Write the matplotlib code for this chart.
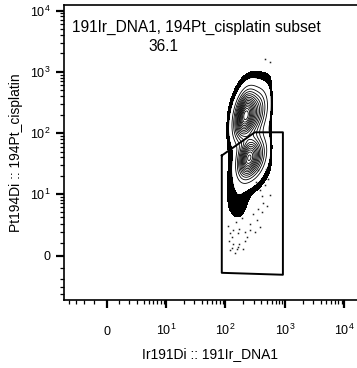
"""
Cisplatin vs DNA contour plot (FlowJo-style, arcsinh axes).
"""

import matplotlib
matplotlib.use("Agg")
import matplotlib.pyplot as plt
import numpy as np

plt.rcParams["font.family"] = ["Liberation Sans", "DejaVu Sans"]
plt.rcParams["mathtext.fontset"] = "custom"
plt.rcParams["mathtext.rm"] = "Liberation Sans"
plt.rcParams["mathtext.it"] = "Liberation Sans"

# --- data ---
x_label = "Ir191Di :: 191Ir_DNA1"
y_label = "Pt194Di :: 194Pt_cisplatin"
gate_name = "191Ir_DNA1, 194Pt_cisplatin subset"
gate_pct = "36.1"

major_ticks = [0, 10, 100, 1000, 10000]
major_labels = ["0", "$10^{1}$", "$10^{2}$", "$10^{3}$", "$10^{4}$"]
x_limits = [-5.0, 16400]
y_limits = [-5.1, 12300]

# parent gate on DNA channel (straight left/right edges of the population)
dna_parent = [105, 600]

# population components: centre (Ir, Pt), spread in decades, correlation, weight
# (upper peak, its right shoulder, lower peak, its right shoulder, low tail,
#  broad envelope)
comp_ir = [212, 316, 239, 330, 160, 280]
comp_pt = [195, 205, 39, 41, 9.9, 100]
comp_sd_ir = [0.10, 0.12, 0.10, 0.11, 0.12, 0.3]
comp_sd_pt = [0.22, 0.23, 0.19, 0.2, 0.25, 0.5]
comp_rho = [0.35, 0.35, 0.3, 0.3, 0.0, 0.5]
comp_weight = [1.0, 0.45, 0.8, 0.35, 0.02, 0.006]

# polygon gate vertices (Ir, Pt)
gate_ir = [87, 313, 929, 929, 87, 87]
gate_pt = [43, 103, 103, -1.56, -1.38, 43]

# outlier events below / beside the contours (Ir, Pt)
dots_ir = [133, 170, 118, 163, 128, 133, 170, 128, 156, 197, 118, 144, 230,
           313, 258, 339, 411, 499, 352, 427, 290, 212, 110, 150, 189, 380,
           462, 518, 411, 326, 561, 258, 163, 114, 212, 380, 480, 352, 462, 561]
dots_pt = [2.2, 2.4, 1.9, 1.9, 1.5, 0.9, 0.9, 0.6, 0.5, 0.5, 0.4, 0.2, 1.5,
           2.0, 3.0, 3.5, 4.9, 6.4, 5.7, 7.2, 4.6, 1.2, 2.7, 3.2, 3.8, 11.5,
           14, 18, 9.2, 15.6, 9.5, 2.2, 0.7, 1.2, 2.0, 2.6, 26, 24.5, 1600, 1440]

COFACTOR = 2.0


def fwd(v):
    return np.arcsinh(np.asarray(v, dtype=float) / COFACTOR) / np.log(10)


def inv(u):
    return COFACTOR * np.sinh(np.asarray(u, dtype=float) * np.log(10))


def minor_positions():
    vals = [-4, -3, -2, -1]
    vals += list(range(1, 10))
    for dec in [10, 100, 1000]:
        vals += [m * dec for m in range(2, 10)]
    return vals


# --- density grid in transformed space ---
U, V = np.meshgrid(np.linspace(1.9, 2.95, 500), np.linspace(-0.3, 3.4, 800))
X, Y = inv(U), inv(V)
dens = np.zeros_like(U)
for cx, cy, sx, sy, rho, w in zip(comp_ir, comp_pt, comp_sd_ir, comp_sd_pt,
                                  comp_rho, comp_weight):
    du = (U - fwd(cx)) / sx
    dv = (V - fwd(cy)) / sy
    q = (du ** 2 - 2 * rho * du * dv + dv ** 2) / (2 * (1 - rho ** 2))
    dens += w * np.exp(-q)
dens /= dens.max()
# soft cut from the parent DNA gate
edge = 0.01
lo, hi = fwd(dna_parent[0]), fwd(dna_parent[1])
dens *= 1 / (1 + np.exp(-(U - lo) / edge)) / (1 + np.exp((U - hi) / edge))

# --- figure ---
fig = plt.figure(figsize=(3.57, 3.68), dpi=100)
ax = fig.add_axes([64 / 357, 68 / 368, 293 / 357, 295 / 368])
ax.set_xscale("function", functions=(fwd, inv))
ax.set_yscale("function", functions=(fwd, inv))
ax.set_xlim(x_limits)
ax.set_ylim(y_limits)

band_lo, line_lo = 0.006, 0.022
ax.contourf(X, Y, dens, levels=[band_lo, line_lo], colors=["black"])
ax.contour(X, Y, dens, levels=np.linspace(line_lo, 0.95, 15),
           colors="black", linewidths=0.6)
ax.plot(dots_ir, dots_pt, "s", color="#222222", markersize=1.1,
        markeredgewidth=0, linestyle="none")

ax.plot(gate_ir, gate_pt, color="black", linewidth=1.4)

ax.text(0.027, 0.925, gate_name, transform=ax.transAxes, fontsize=11.2,
        ha="left", va="center")
ax.text(0.341, 0.861, gate_pct, transform=ax.transAxes, fontsize=11.2,
        ha="center", va="center")

# --- axes styling ---
for side in ["left", "bottom", "top"]:
    ax.spines[side].set_linewidth(1.2)
ax.spines["right"].set_visible(False)

for axis in [ax.xaxis, ax.yaxis]:
    axis.set_major_locator(matplotlib.ticker.FixedLocator(major_ticks))
    axis.set_major_formatter(matplotlib.ticker.FixedFormatter(major_labels))
    axis.set_minor_locator(matplotlib.ticker.FixedLocator(minor_positions()))
    axis.set_minor_formatter(matplotlib.ticker.NullFormatter())

ax.tick_params(which="major", direction="out", length=5.5, width=1.6,
               labelsize=9)
ax.tick_params(which="minor", direction="out", length=2.6, width=0.9)
ax.tick_params(axis="y", which="major", pad=4)
ax.tick_params(axis="x", which="major", pad=20)
fig.canvas.draw()
for lbl in ax.get_xticklabels():
    lbl.set_verticalalignment("baseline")

ax.set_xlabel(x_label, fontsize=10, labelpad=6)
ax.set_ylabel(y_label, fontsize=10, labelpad=5)

fig.savefig("out.png", dpi=100)
